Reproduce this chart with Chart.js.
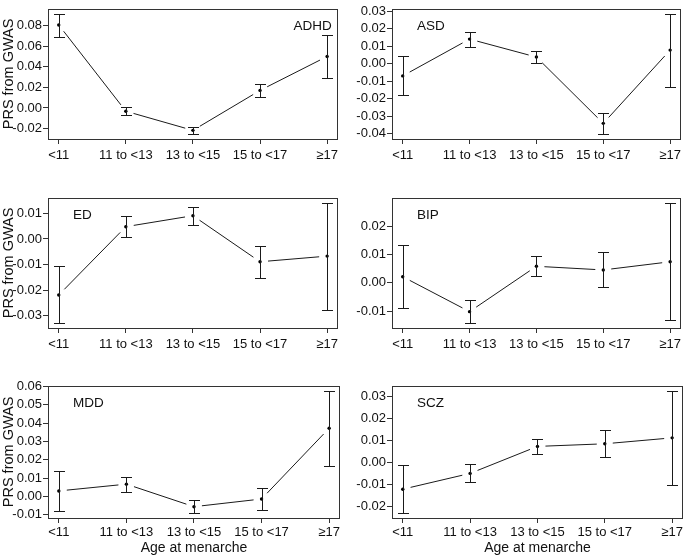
<!DOCTYPE html>
<html>
<head>
<meta charset="utf-8">
<script src="https://cdn.jsdelivr.net/npm/chart.js@4.4.1/dist/chart.umd.min.js"></script>
<style>
  html, body { margin: 0; padding: 0; background: #fff; }
  #wrap { position: relative; width: 685px; height: 557px; }
  .panel { position: absolute; }
</style>
</head>
<body>
<div id="wrap"></div>
<script>
// ---- data ----
var categories = ['<11', '11 to <13', '13 to <15', '15 to <17', '\u226517'];

var adhdMean  = [0.0806, -0.0032, -0.0218, 0.0170, 0.0500];
var adhdLower = [0.0690, -0.0072, -0.0255, 0.0106, 0.0289];
var adhdUpper = [0.0916, 0.0008, -0.0185, 0.0231, 0.0708];
var adhdTicks = [-0.02, 0.00, 0.02, 0.04, 0.06, 0.08];

var asdMean  = [-0.0070, 0.0141, 0.0038, -0.0342, 0.0078];
var asdLower = [-0.0182, 0.0098, 0.0002, -0.0404, -0.0133];
var asdUpper = [0.0042, 0.0181, 0.0074, -0.0283, 0.0287];
var asdTicks = [-0.04, -0.03, -0.02, -0.01, 0.00, 0.01, 0.02, 0.03];

var edMean  = [-0.0219, 0.0048, 0.0091, -0.0089, -0.0067];
var edLower = [-0.0329, 0.0008, 0.0055, -0.0152, -0.0277];
var edUpper = [-0.0107, 0.0089, 0.0126, -0.0026, 0.0142];
var edTicks = [-0.03, -0.02, -0.01, 0.00, 0.01];

var bipMean  = [0.0022, -0.0102, 0.0059, 0.0046, 0.0075];
var bipLower = [-0.0090, -0.0143, 0.0023, -0.0016, -0.0133];
var bipUpper = [0.0133, -0.0061, 0.0095, 0.0109, 0.0285];
var bipTicks = [-0.01, 0.00, 0.01, 0.02];

var mddMean  = [0.0030, 0.0067, -0.0056, -0.0014, 0.0372];
var mddLower = [-0.0081, 0.0025, -0.0091, -0.0075, 0.0165];
var mddUpper = [0.0139, 0.0107, -0.0021, 0.0047, 0.0577];
var mddTicks = [-0.01, 0.00, 0.01, 0.02, 0.03, 0.04, 0.05, 0.06];

var sczMean  = [-0.0123, -0.0051, 0.0072, 0.0084, 0.0111];
var sczLower = [-0.0232, -0.0092, 0.0037, 0.0022, -0.0104];
var sczUpper = [-0.0013, -0.0010, 0.0107, 0.0145, 0.0326];
var sczTicks = [-0.02, -0.01, 0.00, 0.01, 0.02, 0.03];

var yTitle = 'PRS from GWAS';
var xTitle = 'Age at menarche';

// ---- panel layout ----
var FONT = "'Liberation Sans', Arial, Helvetica, sans-serif";
var INK = '#1a1a1a';

var panels = [
  { name: 'ADHD', mean: adhdMean, lo: adhdLower, hi: adhdUpper, ticks: adhdTicks, left: 0,   top: 0,   w: 342, h: 169, yw: 48, xh: 30, tp: 4, yTitle: true,  xTitle: false, tag: 'right' },
  { name: 'ASD',  mean: asdMean,  lo: asdLower,  hi: asdUpper,  ticks: asdTicks,  left: 342, top: 0,   w: 343, h: 169, yw: 50, xh: 30, tp: 4, yTitle: false, xTitle: false, tag: 'left' },
  { name: 'ED',   mean: edMean,   lo: edLower,   hi: edUpper,   ticks: edTicks,   left: 0,   top: 189, w: 342, h: 169, yw: 48, xh: 30, tp: 4, yTitle: true,  xTitle: false, tag: 'left' },
  { name: 'BIP',  mean: bipMean,  lo: bipLower,  hi: bipUpper,  ticks: bipTicks,  left: 342, top: 189, w: 343, h: 169, yw: 50, xh: 30, tp: 4, yTitle: false, xTitle: false, tag: 'left' },
  { name: 'MDD',  mean: mddMean,  lo: mddLower,  hi: mddUpper,  ticks: mddTicks,  left: 0,   top: 377, w: 342, h: 180, yw: 48, xh: 39, tp: 2, yTitle: true,  xTitle: true,  tag: 'left' },
  { name: 'SCZ',  mean: sczMean,  lo: sczLower,  hi: sczUpper,  ticks: sczTicks,  left: 342, top: 377, w: 343, h: 180, yw: 50, xh: 39, tp: 2, yTitle: false, xTitle: true,  tag: 'left' }
];

// error bars, gapped connecting lines (R type "b"), frame and panel tag
var rPlotPlugin = {
  id: 'rPlot',
  afterDatasetsDraw: function(chart) {
    var p = chart.options.plugins.rPlot;
    var xs = chart.scales.x, ys = chart.scales.y;
    var a = chart.chartArea;
    var ctx = chart.ctx;
    ctx.save();
    ctx.strokeStyle = INK;
    ctx.lineWidth = 1;
    // connecting segments with gaps around points
    var gap = 8;
    for (var i = 0; i < p.mean.length - 1; i++) {
      var x1 = xs.getPixelForValue(i + 1), y1 = ys.getPixelForValue(p.mean[i]);
      var x2 = xs.getPixelForValue(i + 2), y2 = ys.getPixelForValue(p.mean[i + 1]);
      var dx = x2 - x1, dy = y2 - y1, len = Math.sqrt(dx * dx + dy * dy);
      if (len <= 2 * gap) continue;
      var ux = dx / len, uy = dy / len;
      ctx.beginPath();
      ctx.moveTo(x1 + ux * gap, y1 + uy * gap);
      ctx.lineTo(x2 - ux * gap, y2 - uy * gap);
      ctx.stroke();
    }
    // error bars
    var cap = 5.5;
    for (var j = 0; j < p.mean.length; j++) {
      var x = Math.round(xs.getPixelForValue(j + 1)) + 0.5;
      var yl = Math.round(ys.getPixelForValue(p.lo[j])) + 0.5;
      var yh = Math.round(ys.getPixelForValue(p.hi[j])) + 0.5;
      ctx.beginPath();
      ctx.moveTo(x, yl); ctx.lineTo(x, yh);
      ctx.moveTo(x - cap, yl); ctx.lineTo(x + cap, yl);
      ctx.moveTo(x - cap, yh); ctx.lineTo(x + cap, yh);
      ctx.stroke();
    }
    // frame
    ctx.strokeStyle = '#333';
    ctx.strokeRect(Math.round(a.left) + 0.5, Math.round(a.top) + 0.5,
      Math.round(a.right - a.left) - 1, Math.round(a.bottom - a.top));
    // panel tag
    ctx.fillStyle = '#111';
    ctx.font = '13.5px ' + FONT;
    ctx.textBaseline = 'middle';
    if (p.tag === 'right') {
      ctx.textAlign = 'right';
      ctx.fillText(p.name, a.right - 6, a.top + 17);
    } else {
      ctx.textAlign = 'left';
      ctx.fillText(p.name, a.left + 25, a.top + 17);
    }
    ctx.restore();
  }
};

function rRange(lo, hi) {
  var mn = Math.min.apply(null, lo), mx = Math.max.apply(null, hi);
  var pad = (mx - mn) * 0.04;
  return [mn - pad, mx + pad];
}

panels.forEach(function(p, k) {
  var div = document.createElement('div');
  div.className = 'panel';
  div.style.left = p.left + 'px';
  div.style.top = p.top + 'px';
  div.style.width = p.w + 'px';
  div.style.height = p.h + 'px';
  var cv = document.createElement('canvas');
  cv.id = 'c' + k;
  div.appendChild(cv);
  document.getElementById('wrap').appendChild(div);

  var yr = rRange(p.lo, p.hi);
  var pts = p.mean.map(function(v, i) { return { x: i + 1, y: v }; });

  new Chart(cv, {
    type: 'line',
    data: {
      datasets: [{
        data: pts,
        showLine: false,
        pointRadius: 1.7,
        pointHoverRadius: 1.7,
        pointBackgroundColor: '#000',
        pointBorderWidth: 0
      }]
    },
    options: {
      responsive: true,
      maintainAspectRatio: false,
      animation: false,
      events: [],
      layout: { padding: { top: 3, right: 2, left: 0, bottom: 0 } },
      plugins: {
        legend: { display: false },
        tooltip: { enabled: false },
        rPlot: { mean: p.mean, lo: p.lo, hi: p.hi, name: p.name, tag: p.tag }
      },
      scales: {
        x: {
          type: 'linear',
          min: 0.84, max: 5.16,
          afterBuildTicks: function(s) { s.ticks = categories.map(function(c, i) { return { value: i + 1 }; }); },
          afterFit: function(s) { s.height = p.xh; },
          ticks: {
            autoSkip: false, maxRotation: 0, padding: p.tp,
            color: '#111', font: { family: FONT, size: 13 },
            callback: function(v) { return categories[v - 1]; }
          },
          grid: { drawOnChartArea: false, drawTicks: true, tickLength: 5, tickColor: '#333' },
          border: { display: false },
          title: { display: p.xTitle, text: xTitle, color: '#111', font: { family: FONT, size: 14 }, padding: 0 }
        },
        y: {
          min: yr[0], max: yr[1],
          afterBuildTicks: function(s) { s.ticks = p.ticks.map(function(v) { return { value: v }; }); },
          afterFit: function(s) { s.width = p.yw; },
          ticks: {
            autoSkip: false, padding: 1,
            color: '#111', font: { family: FONT, size: 13 },
            callback: function(v) { return Number(v).toFixed(2); }
          },
          grid: { drawOnChartArea: false, drawTicks: true, tickLength: 5, tickColor: '#333' },
          border: { display: false },
          title: { display: p.yTitle, text: yTitle, color: '#111', font: { family: FONT, size: 14.5 }, padding: 0 }
        }
      }
    },
    plugins: [rPlotPlugin]
  });
});
</script>
</body>
</html>
